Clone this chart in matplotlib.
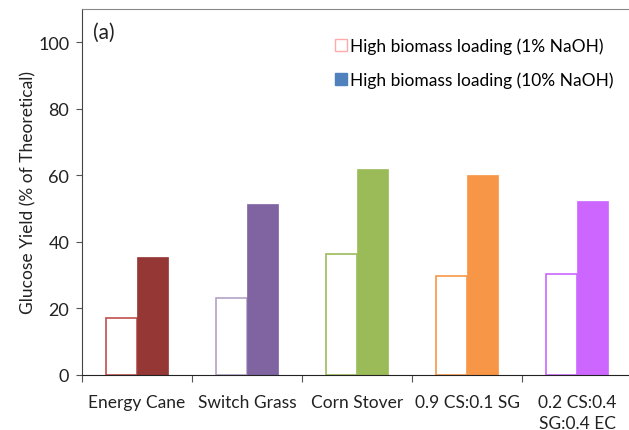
import matplotlib
matplotlib.use("Agg")
import matplotlib.pyplot as plt
import numpy as np
from matplotlib.lines import Line2D

plt.rcParams['font.family'] = ['Lato', 'DejaVu Sans']

# rendimento de glicose por biomassa (% do teórico)
categorias = ['Energy Cane', 'Switch Grass', 'Corn Stover', '0.9 CS:0.1 SG', '0.2 CS:0.4\nSG:0.4 EC']
naoh_1 = [17.1, 23.1, 36.3, 29.6, 30.3]
naoh_10 = [35.5, 51.3, 62.0, 60.0, 52.2]

cor_contorno = ['#C0504D', '#B3A2C7', '#9BBB59', '#F79646', '#CC66FF']
cor_cheia = ['#953735', '#8064A2', '#9BBB59', '#F79646', '#CC66FF']

fig = plt.figure(figsize=(6.29, 4.31), dpi=100)
ax = fig.add_axes([0.130, 0.128, 0.875, 0.849])

x = np.arange(len(categorias))
largura = 0.28

ax.bar(x - largura / 2, naoh_1, largura, facecolor='white', edgecolor=cor_contorno, linewidth=1.2)
ax.bar(x + largura / 2, naoh_10, largura, color=cor_cheia, edgecolor=cor_cheia, linewidth=0.5)

ax.set_xlim(-0.5, len(categorias) - 0.5)
ax.set_ylim(0, 110)
ax.set_yticks([0, 20, 40, 60, 80, 100])

# ticks do eixo x ficam nas divisas entre as categorias
ax.set_xticks(np.arange(len(categorias) + 1) - 0.5)
ax.set_xticklabels([])
ax.set_xticks(x, minor=True)
ax.set_xticklabels(categorias, minor=True, fontsize=12.5, color='#222222', linespacing=1.4)
ax.tick_params(axis='x', which='minor', length=0, pad=14)
ax.tick_params(axis='x', which='major', length=5, direction='out', color='#555555')
ax.tick_params(axis='y', length=4, direction='out', labelsize=13, labelcolor='#222222', color='#555555', pad=5)

ax.set_ylabel('Glucose Yield (% of Theoretical)', fontsize=12.5, color='#222222', labelpad=1)

ax.spines['left'].set_color('#444444')
ax.spines['bottom'].set_color('#222222')
ax.spines['top'].set_color('#888888')
ax.spines['right'].set_visible(False)

ax.text(0.02, 0.965, '(a)', transform=ax.transAxes, fontsize=15, va='top', color='#222222')

legenda = [
    Line2D([], [], marker='s', linestyle='none', markersize=8, markerfacecolor='white',
           markeredgecolor='#FFAAAA', label='High biomass loading (1% NaOH)'),
    Line2D([], [], marker='s', linestyle='none', markersize=8, markerfacecolor='#4F81BD',
           markeredgecolor='#4F81BD', label='High biomass loading (10% NaOH)'),
]
ax.legend(handles=legenda, loc='upper right', bbox_to_anchor=(0.995, 0.965), frameon=False,
          fontsize=12.5, handletextpad=0.05, labelspacing=1.0, handlelength=1.0)

fig.savefig('out.png', dpi=100)
